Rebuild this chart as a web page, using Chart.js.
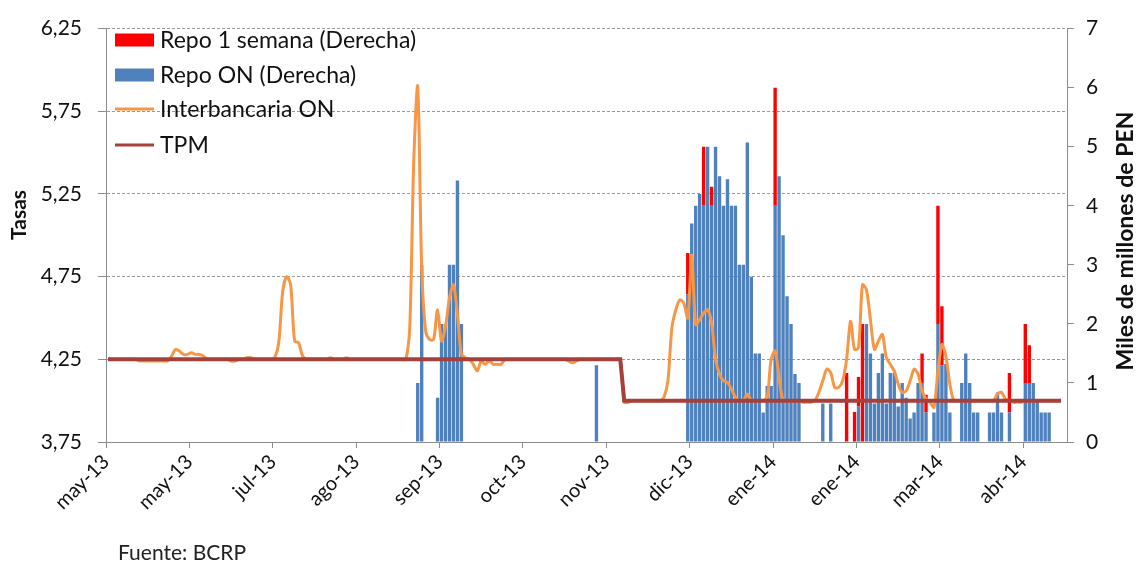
<!DOCTYPE html>
<html>
<head>
<meta charset="utf-8">
<script src="https://cdn.jsdelivr.net/npm/chart.js@4.4.1/dist/chart.umd.min.js"></script>
<style>
  html, body { margin: 0; padding: 0; background: #ffffff; }
  #marco { width: 1140px; height: 566px; position: relative; }
</style>
</head>
<body>
<div id="marco"><canvas id="grafico" width="1140" height="566"></canvas></div>
<script>
// Etiquetas del eje horizontal (una cada 21 días hábiles)
const etiquetasEje = ['may-13','may-13','jul-13','ago-13','sep-13','oct-13','nov-13','dic-13','ene-14','ene-14','mar-14','abr-14'];
const diasPorMarca = 21;
const _ = null;

// Días hábiles (categorías)
const dias = [];
(function () {
  const d = new Date(2013, 4, 2);
  while (dias.length < 242) {
    const w = d.getDay();
    if (w !== 0 && w !== 6) dias.push(d.toISOString().slice(0, 10));
    d.setDate(d.getDate() + 1);
  }
})();

// Tasa de política monetaria (%)
const tpm = [
 4.25,4.25,4.25,4.25,4.25,4.25,4.25,4.25,4.25,4.25,4.25,4.25,4.25,4.25,4.25,4.25,4.25,4.25,4.25,4.25,4.25,
 4.25,4.25,4.25,4.25,4.25,4.25,4.25,4.25,4.25,4.25,4.25,4.25,4.25,4.25,4.25,4.25,4.25,4.25,4.25,4.25,4.25,
 4.25,4.25,4.25,4.25,4.25,4.25,4.25,4.25,4.25,4.25,4.25,4.25,4.25,4.25,4.25,4.25,4.25,4.25,4.25,4.25,4.25,
 4.25,4.25,4.25,4.25,4.25,4.25,4.25,4.25,4.25,4.25,4.25,4.25,4.25,4.25,4.25,4.25,4.25,4.25,4.25,4.25,4.25,
 4.25,4.25,4.25,4.25,4.25,4.25,4.25,4.25,4.25,4.25,4.25,4.25,4.25,4.25,4.25,4.25,4.25,4.25,4.25,4.25,4.25,
 4.25,4.25,4.25,4.25,4.25,4.25,4.25,4.25,4.25,4.25,4.25,4.25,4.25,4.25,4.25,4.25,4.25,4.25,4.25,4.25,4.25,
 4.25,4.25,4.25,4.25,4.00,4.00,4.00,4.00,4.00,4.00,4.00,4.00,4.00,4.00,4.00,4.00,4.00,4.00,4.00,4.00,4.00,
 4.00,4.00,4.00,4.00,4.00,4.00,4.00,4.00,4.00,4.00,4.00,4.00,4.00,4.00,4.00,4.00,4.00,4.00,4.00,4.00,4.00,
 4.00,4.00,4.00,4.00,4.00,4.00,4.00,4.00,4.00,4.00,4.00,4.00,4.00,4.00,4.00,4.00,4.00,4.00,4.00,4.00,4.00,
 4.00,4.00,4.00,4.00,4.00,4.00,4.00,4.00,4.00,4.00,4.00,4.00,4.00,4.00,4.00,4.00,4.00,4.00,4.00,4.00,4.00,
 4.00,4.00,4.00,4.00,4.00,4.00,4.00,4.00,4.00,4.00,4.00,4.00,4.00,4.00,4.00,4.00,4.00,4.00,4.00,4.00,4.00,
 4.00,4.00,4.00,4.00,4.00,4.00,4.00,4.00,4.00,4.00,_
];

// Tasa interbancaria overnight (%)
const interbancaria = [
 4.25,4.25,4.25,4.25,4.25,4.25,4.25,4.25,4.24,4.24,4.24,4.24,4.24,4.24,4.24,4.24,4.27,4.31,4.30,4.28,4.28,
 4.29,4.28,4.28,4.27,4.25,4.25,4.25,4.25,4.25,4.25,4.24,4.24,4.25,4.25,4.26,4.26,4.25,4.25,4.25,4.25,4.25,
 4.26,4.35,4.66,4.75,4.70,4.36,4.35,4.27,4.25,4.25,4.25,4.25,4.25,4.25,4.26,4.25,4.25,4.25,4.26,4.25,4.25,
 4.25,4.25,4.25,4.25,4.25,4.25,4.25,4.25,4.25,4.25,4.25,4.25,4.25,4.45,5.45,5.90,4.80,4.42,4.37,4.37,4.55,
 4.36,4.45,4.62,4.70,4.52,4.28,4.26,4.25,4.22,4.18,4.24,4.22,4.24,4.22,4.22,4.22,4.25,4.25,4.25,4.25,4.25,
 4.25,4.25,4.25,4.25,4.25,4.25,4.25,4.25,4.25,4.25,4.25,4.24,4.23,4.24,4.25,4.25,4.25,4.25,4.25,4.25,4.25,
 4.25,4.25,4.25,4.25,3.99,3.99,4.00,4.00,4.00,4.00,4.00,4.00,4.00,4.00,4.02,4.12,4.44,4.55,4.61,4.59,4.50,
 4.88,4.46,4.49,4.53,4.55,4.47,4.25,4.16,4.12,4.11,4.07,4.02,4.00,4.00,4.04,4.00,4.00,4.00,4.00,4.02,4.25,
 4.30,4.14,4.00,4.00,4.00,4.00,4.00,3.99,3.99,3.99,4.00,4.05,4.12,4.19,4.17,4.08,4.08,4.12,4.25,4.48,4.31,
 4.32,4.70,4.67,4.49,4.31,4.36,4.40,4.26,4.22,4.18,4.10,4.05,4.06,4.12,4.19,4.16,4.06,4.01,3.99,3.96,4.18,
 4.34,4.27,4.10,4.00,4.00,4.00,4.00,4.00,4.00,4.00,4.00,4.00,4.00,4.00,4.04,4.05,4.01,4.00,3.99,3.99,3.99,
 4.00,4.00,4.00,4.00,4.00,4.00,4.00,4.00,4.00,4.00,_
];

// Repo overnight (miles de millones de PEN)
const repoON = [
 _,_,_,_,_,_,_,_,_,_,_,_,_,_,_,_,_,_,_,_,_,
 _,_,_,_,_,_,_,_,_,_,_,_,_,_,_,_,_,_,_,_,_,
 _,_,_,_,_,_,_,_,_,_,_,_,_,_,_,_,_,_,_,_,_,
 _,_,_,_,_,_,_,_,_,_,_,_,_,_,_,1.0,3.0,_,_,_,0.75,
 2.0,2.0,3.0,3.0,4.43,2.0,_,_,_,_,_,_,_,_,_,_,_,_,_,_,_,
 _,_,_,_,_,_,_,_,_,_,_,_,_,_,_,_,_,_,1.3,_,_,
 _,_,_,_,_,_,_,_,_,_,_,_,_,_,_,_,_,_,_,_,2.5,
 3.7,4.0,4.2,4.0,5.0,4.0,5.0,4.5,4.0,4.45,4.0,4.0,3.0,3.0,5.07,2.8,1.5,1.5,0.5,0.95,0.95,
 4.0,4.5,3.5,2.47,2.0,1.15,1.0,_,_,_,_,_,0.65,_,0.65,_,_,_,_,_,_,
 0.6,_,2.0,1.5,0.65,1.17,1.5,0.65,1.17,1.17,0.6,1.0,0.75,0.4,0.5,1.0,1.0,0.5,_,0.5,2.0,
 1.3,1.32,0.5,_,_,1.0,1.5,1.0,0.5,0.5,_,_,0.5,0.5,0.84,0.5,_,0.5,_,_,_,
 1.0,1.0,1.0,0.68,0.5,0.5,0.5,_,_,_,_
];

// Repo a 1 semana (miles de millones de PEN)
const repo1S = [
 _,_,_,_,_,_,_,_,_,_,_,_,_,_,_,_,_,_,_,_,_,
 _,_,_,_,_,_,_,_,_,_,_,_,_,_,_,_,_,_,_,_,_,
 _,_,_,_,_,_,_,_,_,_,_,_,_,_,_,_,_,_,_,_,_,
 _,_,_,_,_,_,_,_,_,_,_,_,_,_,_,_,_,_,_,_,_,
 _,_,_,_,_,_,_,_,_,_,_,_,_,_,_,_,_,_,_,_,_,
 _,_,_,_,_,_,_,_,_,_,_,_,_,_,_,_,_,_,_,_,_,
 _,_,_,_,_,_,_,_,_,_,_,_,_,_,_,_,_,_,_,_,0.7,
 _,_,_,1.0,_,0.32,_,_,_,_,_,_,_,_,_,_,_,_,_,_,_,
 2.0,_,_,_,_,_,_,_,_,_,_,_,_,_,_,_,_,_,1.17,_,0.51,
 0.5,2.0,_,_,_,_,_,_,_,_,_,_,_,_,_,_,0.5,0.3,_,_,2.0,
 1.0,_,_,_,_,_,_,_,_,_,_,_,_,_,_,_,_,0.67,_,_,_,
 1.0,0.64,_,_,_,_,_,_,_,_,_
];

const colores = { repo1S: '#FF0000', repoON: '#4F81BD', interbancaria: '#F79646', tpm: '#A6403B' };
const gris = '#8C8C8C';
const fuente = 'Lato';

// Leyenda, títulos de ejes y fuente
const textos = {
  id: 'textos',
  afterDatasetsDraw(chart) {
    const c = chart.ctx;
    c.save();
    c.font = '23px ' + fuente;
    c.textBaseline = 'middle';
    c.textAlign = 'left';
    const filas = [
      { i: 3, y: 40, caja: true },
      { i: 2, y: 75, caja: true },
      { i: 1, y: 109, caja: false },
      { i: 0, y: 145, caja: false }
    ];
    filas.forEach(f => {
      const ds = chart.data.datasets[f.i];
      if (f.caja) {
        c.fillStyle = ds.backgroundColor;
        c.fillRect(115, f.y - 6.5, 39, 13);
      } else {
        c.strokeStyle = ds.borderColor;
        c.lineWidth = 3;
        c.beginPath();
        c.moveTo(115, f.y);
        c.lineTo(154, f.y);
        c.stroke();
      }
      c.fillStyle = '#111111';
      c.fillText(ds.label, 160, f.y + 1);
    });
    c.restore();
  },
  afterDraw(chart) {
    const c = chart.ctx;
    c.save();
    c.fillStyle = '#111111';
    c.textAlign = 'center';
    c.textBaseline = 'middle';
    c.font = 'bold 21px ' + fuente;
    c.translate(19, 215);
    c.rotate(-Math.PI / 2);
    c.fillText('Tasas', 0, 0);
    c.restore();
    c.save();
    c.fillStyle = '#111111';
    c.textAlign = 'center';
    c.textBaseline = 'middle';
    c.font = 'bold 23px ' + fuente;
    c.translate(1126, 241);
    c.rotate(-Math.PI / 2);
    c.fillText('Miles de millones de PEN', 0, 0);
    c.restore();
    c.save();
    c.fillStyle = '#222222';
    c.font = '21px ' + fuente;
    c.textBaseline = 'middle';
    c.fillText('Fuente: BCRP', 118, 553);
    c.restore();
  }
};

new Chart(document.getElementById('grafico'), {
  data: {
    labels: dias,
    datasets: [
      { type: 'line', label: 'TPM', data: tpm, yAxisID: 'y', borderColor: colores.tpm, borderWidth: 4,
        pointRadius: 0, tension: 0, order: 0, spanGaps: false },
      { type: 'line', label: 'Interbancaria ON', data: interbancaria, yAxisID: 'y', borderColor: colores.interbancaria,
        borderWidth: 3, pointRadius: 0, tension: 0.3, order: 1 },
      { type: 'bar', label: 'Repo ON (Derecha)', data: repoON, yAxisID: 'y1', backgroundColor: colores.repoON,
        barPercentage: 0.85, categoryPercentage: 1.0, order: 2 },
      { type: 'bar', label: 'Repo 1 semana (Derecha)', data: repo1S, yAxisID: 'y1', backgroundColor: colores.repo1S,
        barPercentage: 0.85, categoryPercentage: 1.0, order: 3 }
    ]
  },
  options: {
    responsive: false,
    animation: false,
    layout: { padding: { top: 20, left: 0, right: 0, bottom: 0 } },
    plugins: { legend: { display: false }, tooltip: { enabled: false } },
    scales: {
      x: {
        type: 'category',
        offset: true,
        stacked: true,
        grid: {
          offset: true,
          drawOnChartArea: false,
          tickLength: 6,
          tickColor: ctx => (ctx.index % diasPorMarca === 0 ? gris : 'rgba(0,0,0,0)')
        },
        border: { color: gris, width: 1 },
        ticks: {
          autoSkip: false,
          minRotation: 45,
          maxRotation: 45,
          padding: 2,
          labelOffset: -2,
          color: '#111111',
          font: { family: fuente, size: 20 },
          callback: (v, i) => (i % diasPorMarca === 0 ? etiquetasEje[i / diasPorMarca] : '')
        },
        afterFit: s => { s.height = 124; }
      },
      y: {
        position: 'left',
        min: 3.75,
        max: 6.25,
        grid: {
          color: ctx => (ctx.tick && ctx.tick.value === 3.75 ? 'rgba(0,0,0,0)' : '#9A9A9A'),
          tickColor: gris,
          tickLength: 8
        },
        border: { color: gris, width: 1, dash: [3, 2] },
        ticks: {
          stepSize: 0.5,
          padding: 16,
          color: '#111111',
          font: { family: fuente, size: 21 },
          callback: v => v.toFixed(2).replace('.', ',')
        },
        afterFit: s => { s.width = 106; }
      },
      y1: {
        position: 'right',
        min: 0,
        max: 7,
        stacked: true,
        grid: { drawOnChartArea: false, tickColor: gris, tickLength: 7 },
        border: { color: gris, width: 1 },
        ticks: {
          stepSize: 1,
          padding: 12,
          color: '#111111',
          font: { family: fuente, size: 21 }
        },
        afterFit: s => { s.width = 73; }
      }
    }
  },
  plugins: [textos]
});
</script>
</body>
</html>
